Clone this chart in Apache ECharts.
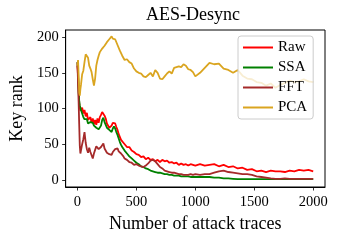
<!DOCTYPE html>
<html>
<head>
<meta charset="utf-8">
<script src="https://cdn.jsdelivr.net/npm/echarts@6/dist/echarts.min.js"></script>
<style>html,body{margin:0;padding:0;background:#fff;}#c{width:340px;height:240px;}</style>
</head>
<body>
<div id="c"></div>
<script>
const seriesNames = ['Raw', 'SSA', 'FFT', 'PCA'];
const xTicks = [0, 500, 1000, 1500, 2000];
const yTicks = [0, 50, 100, 150, 200];
const traces = [0,5,10,15,20,25,30,
  40,50,60,70,80,90,100,110,120,130,140,150,160,170,180,190,200,210,220,230,240,250,260,270,280,290,300,310,320,330,340,350,360,370,380,390,400,
  420,440,460,480,500,520,540,560,580,600,620,640,660,680,700,720,740,760,780,800,820,840,860,880,900,920,940,960,980,1000,
  1040,1080,1120,1160,1200,1240,1280,1320,1360,1400,1440,1480,1520,1560,1600,1640,1680,1720,1760,1800,1840,1880,1920,1960,2000];
const raw = [160,146,129,108,101,97,99,
  101,93,98,89,94,84,86,88,80,86,78,84,77,86,80,88,91,95,96,90,86,79,79,73,75,76,80,82,79,74,70,64,62,56,56,52,51,
  46,46,41,39,36,35,32,33,29,31,28,29,26,28,25,28,26,27,24,25,23,24,21,23,21,22,20,22,21,20,
  22,20,21,22,19,21,18,19,16,17,14,15,12,13,11,13,12,12,11,13,12,14,13,14,12];
const ssa = [165,152,122,111,104,105,98,
  93,88,85,87,85,79,79,81,81,80,76,76,73,73,71,73,76,84,87,81,77,73,73,70,71,67,72,75,72,67,63,58,53,49,46,44,41,
  37,33,30,27,24,22,19,18,16,15,13,12,11,10,10,9,8,8,7,7,6,6,6,5,5,5,5,4,4,4,
  4,4,4,3,3,2,2,1.5,1,1,1,1,1,1,1,1,1,1,1,1,1,1,1,1,1];
const fft = [165,138,110,78,48,37,36,
  50,57,67,52,43,38,45,39,37,30,37,42,47,47,43,42,46,47,51,44,42,38,39,36,38,35,39,40,43,42,44,40,39,37,36,33,30,
  28,25,24,21,22,20,19,18,20,23,27,28,26,22,18,16,13,12,11,10,10,9,8,8,7,7,7,8,7,8,
  7,8,8,10,12,13,11,10,9,8,8,7,5,4,3,2,1.5,1.5,2,1.5,1.5,1.5,1.5,1.5,1.5];
const pca = [160,168,148,122,118,127,133,
  148,153,165,176,176,171,160,156,151,141,132,142,160,168,174,179,180,184,183,188,189,193,194,197,198,201,198,200,197,195,189,187,181,179,174,172,168,
  169,165,163,156,152,150,149,145,144,147,150,145,154,150,142,141,145,149,152,149,157,158,159,158,162,160,155,154,151,145,
  150,157,164,162,163,156,154,150,154,146,142,141,137,136,132,135,129,133,136,139,137,138,141,138,137];
const colors = ['#ff0000', '#008000', '#a52a2a', '#daa520'];
const values = [raw, ssa, fft, pca];

const font = 'Liberation Serif, DejaVu Serif, serif';
const chart = echarts.init(document.getElementById('c'), null, {renderer: 'canvas'});
chart.setOption({
  animation: false,
  backgroundColor: '#fff',
  title: {text: 'AES-Desync', left: 193, top: 6, textAlign: 'center', padding: 0,
    textStyle: {fontFamily: font, fontWeight: 'normal', fontSize: 18, color: '#000'}},
  grid: {left: 61, right: 15, top: 30, bottom: 53, show: true, borderColor: '#000', borderWidth: 1, backgroundColor: 'transparent'},
  legend: {
    orient: 'vertical', left: 238, top: 36,
    padding: [4, 6, 4, 5], itemGap: 5, itemWidth: 30, itemHeight: 2, itemTextGap: 10, icon: 'rect',
    backgroundColor: 'rgba(255,255,255,0.8)', borderColor: '#cccccc', borderWidth: 1, borderRadius: 3,
    textStyle: {fontFamily: font, fontSize: 15, color: '#000'},
    data: seriesNames
  },
  xAxis: {
    type: 'value', min: -100, max: 2100,
    name: 'Number of attack traces', nameLocation: 'middle', nameGap: 28,
    nameTextStyle: {fontFamily: font, fontSize: 18, color: '#000'},
    axisLine: {show: true, onZero: false, lineStyle: {color: '#000', width: 1}},
    axisTick: {show: true, length: 3.5, lineStyle: {color: '#000', width: 0.8}, customValues: xTicks},
    axisLabel: {fontFamily: font, fontSize: 14.5, color: '#000', margin: 8, customValues: xTicks, formatter: v => String(v)},
    splitLine: {show: false}
  },
  yAxis: {
    type: 'value', min: -10, max: 210,
    name: 'Key rank', nameLocation: 'middle', nameGap: 36,
    nameTextStyle: {fontFamily: font, fontSize: 18, color: '#000'},
    axisLine: {show: true, onZero: false, lineStyle: {color: '#000', width: 1}},
    axisTick: {show: true, length: 3.5, lineStyle: {color: '#000', width: 0.8}, customValues: yTicks},
    axisLabel: {fontFamily: font, fontSize: 14.5, color: '#000', margin: 7, customValues: yTicks, formatter: v => String(v)},
    splitLine: {show: false}
  },
  series: seriesNames.map((n, k) => ({
    name: n, type: 'line', symbol: 'none', showSymbol: false,
    color: colors[k],
    lineStyle: {width: 1.8, color: colors[k]},
    data: traces.map((t, i) => [t, values[k][i]])
  }))
});
</script>
</body>
</html>
